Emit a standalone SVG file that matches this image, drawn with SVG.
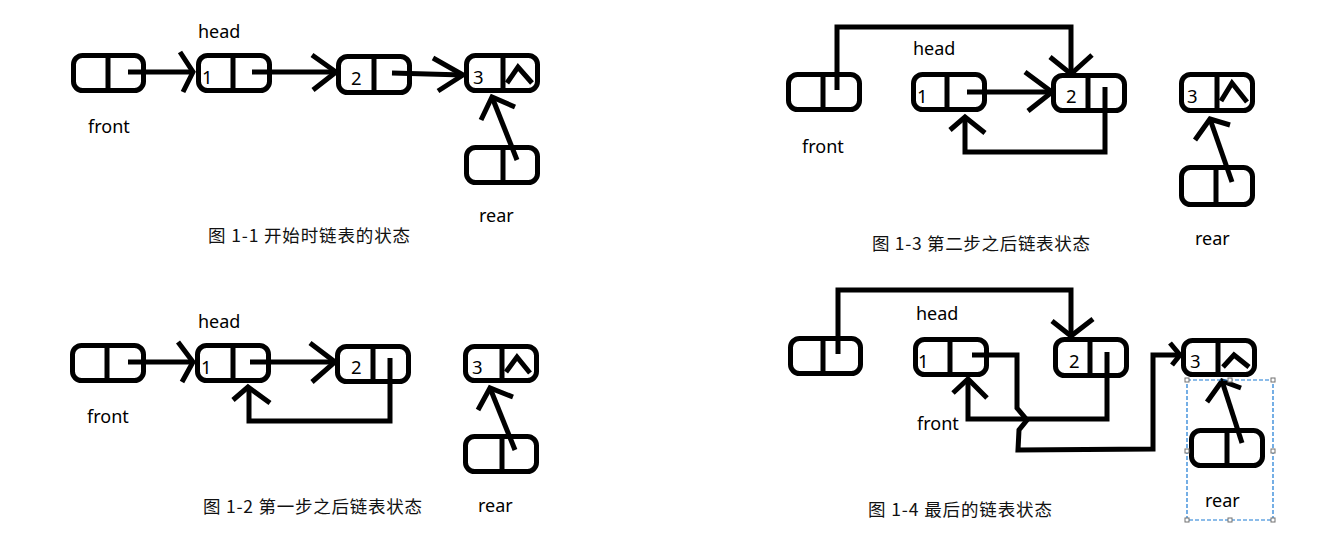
<svg xmlns="http://www.w3.org/2000/svg" width="1321" height="558" viewBox="0 0 1321 558">
<style>
.box{fill:#fff;stroke:#000;stroke-width:5}
.div{stroke:#000;stroke-width:5}
.ln{fill:none;stroke:#000;stroke-width:5;stroke-linejoin:miter;stroke-linecap:butt}
.lbl{font-family:"Noto Sans","Liberation Sans",sans-serif;font-size:18px;fill:#000}
.num{font-family:"Noto Sans","Liberation Sans",sans-serif;font-size:18.5px;fill:#000}
.cap{font-family:"Noto Sans CJK SC","Noto Sans",sans-serif;font-size:17.5px;fill:#111}
.sel{fill:none;stroke:#1a7ad4;stroke-width:1.2;stroke-dasharray:4 2}
.hd{fill:#fff;stroke:#707070;stroke-width:1}
</style>
<rect width="1321" height="558" fill="#fff"/>

<!-- Panel 1 -->
<g id="p1-front"><rect class="box" x="73.5" y="55.5" width="70" height="35" rx="9"/><line class="div" x1="108" y1="55" x2="108" y2="91"/></g>
<g id="p1-n1"><rect class="box" x="198.5" y="55.5" width="71" height="35" rx="9"/><line class="div" x1="233" y1="55" x2="233" y2="91"/><text class="num" x="202" y="84">1</text></g>
<g id="p1-n2"><rect class="box" x="338.5" y="56.5" width="71" height="36" rx="9"/><line class="div" x1="374" y1="56" x2="374" y2="93"/><text class="num" x="351" y="85">2</text></g>
<g id="p1-n3"><rect class="box" x="466.5" y="55.5" width="71" height="35" rx="9"/><line class="div" x1="503" y1="55" x2="503" y2="91"/><text class="num" x="473" y="84">3</text><polyline class="ln" points="507,83 518,67 532,83"/></g>
<g id="p1-rear"><rect class="box" x="466.5" y="147.5" width="71" height="35" rx="9"/><line class="div" x1="503" y1="147" x2="503" y2="183"/></g>
<text class="lbl" x="198" y="38">head</text>
<text class="lbl" x="88" y="133">front</text>
<text class="lbl" x="479" y="222">rear</text>
<text class="cap" x="208" y="242" textLength="202">图 1-1 开始时链表的状态</text>

<!-- Panel 2 -->
<g id="p2-front"><rect class="box" x="72.5" y="345.5" width="71" height="35" rx="9"/><line class="div" x1="107" y1="345" x2="107" y2="381"/></g>
<g id="p2-n1"><rect class="box" x="197.5" y="345.5" width="71" height="35" rx="9"/><line class="div" x1="233" y1="345" x2="233" y2="381"/><text class="num" x="201" y="374">1</text></g>
<g id="p2-n2"><rect class="box" x="337.5" y="346.5" width="71" height="35" rx="9"/><line class="div" x1="373" y1="346" x2="373" y2="382"/><text class="num" x="351" y="374">2</text></g>
<g id="p2-n3"><rect class="box" x="465.5" y="346.5" width="71" height="34" rx="9"/><line class="div" x1="502" y1="346" x2="502" y2="381"/><text class="num" x="472" y="374">3</text><polyline class="ln" points="506,372 517,357 530,373"/></g>
<g id="p2-rear"><rect class="box" x="465.5" y="436.5" width="71" height="35" rx="9"/><line class="div" x1="502" y1="436" x2="502" y2="472"/></g>
<text class="lbl" x="198" y="328">head</text>
<text class="lbl" x="87" y="423">front</text>
<text class="lbl" x="478" y="512">rear</text>
<text class="cap" x="203" y="513" textLength="219">图 1-2 第一步之后链表状态</text>

<!-- Panel 3 -->
<g id="p3-front"><rect class="box" x="788.5" y="74.5" width="71" height="35" rx="9"/><line class="div" x1="823" y1="74" x2="823" y2="110"/></g>
<g id="p3-n1"><rect class="box" x="913.5" y="74.5" width="71" height="35" rx="9"/><line class="div" x1="947" y1="74" x2="947" y2="110"/><text class="num" x="917" y="103">1</text></g>
<g id="p3-n2"><rect class="box" x="1053.5" y="75.5" width="71" height="35" rx="9"/><line class="div" x1="1088" y1="75" x2="1088" y2="111"/><text class="num" x="1066" y="103">2</text></g>
<g id="p3-n3"><rect class="box" x="1181.5" y="74.5" width="71" height="36" rx="9"/><line class="div" x1="1217" y1="74" x2="1217" y2="111"/><text class="num" x="1187" y="103">3</text><polyline class="ln" points="1221,101 1232,83 1247,102"/></g>
<g id="p3-rear"><rect class="box" x="1181.5" y="167.5" width="71" height="37" rx="9"/><line class="div" x1="1216" y1="167" x2="1216" y2="205"/></g>
<text class="lbl" x="913" y="55">head</text>
<text class="lbl" x="802" y="153">front</text>
<text class="lbl" x="1195" y="245">rear</text>
<text class="cap" x="872" y="250" textLength="218">图 1-3 第二步之后链表状态</text>

<!-- Panel 4 -->
<g id="p4-box"><rect class="box" x="790.5" y="338.5" width="70" height="35" rx="9"/><line class="div" x1="823" y1="338" x2="823" y2="374"/></g>
<g id="p4-n1"><rect class="box" x="915.5" y="339.5" width="71" height="35" rx="9"/><line class="div" x1="950" y1="339" x2="950" y2="375"/><text class="num" x="918" y="368">1</text></g>
<g id="p4-n2"><rect class="box" x="1055.5" y="339.5" width="71" height="36" rx="9"/><line class="div" x1="1090" y1="339" x2="1090" y2="376"/><text class="num" x="1069" y="368">2</text></g>
<g id="p4-n3"><rect class="box" x="1183.5" y="340.5" width="71" height="34" rx="9"/><line class="div" x1="1218" y1="340" x2="1218" y2="375"/><text class="num" x="1190" y="368">3</text><polyline class="ln" points="1223,367 1234,355 1249,367"/></g>
<g id="p4-rear"><rect class="box" x="1191.5" y="430.5" width="71" height="35" rx="9"/><line class="div" x1="1227" y1="430" x2="1227" y2="466"/></g>
<text class="lbl" x="916" y="320">head</text>
<text class="lbl" x="917" y="430">front</text>
<text class="lbl" x="1205" y="507">rear</text>
<text class="cap" x="868" y="516" textLength="184">图 1-4 最后的链表状态</text>

<!-- Connectors -->
<g id="connectors">
  <!-- panel 1 -->
  <line class="ln" x1="128" y1="72" x2="193" y2="72"/><polyline class="ln" points="180,52 193,72 183,92"/>
  <line class="ln" x1="252" y1="72" x2="336" y2="72"/><polyline class="ln" points="312,55 336,72 313,90"/>
  <line class="ln" x1="392" y1="73" x2="463" y2="75"/><polyline class="ln" points="433,58 463,75 438,91"/>
  <line class="ln" x1="517" y1="160" x2="492" y2="97"/><polyline class="ln" points="481,120 492,97 515,107"/>
  <!-- panel 2 -->
  <line class="ln" x1="128" y1="362" x2="193" y2="362"/><polyline class="ln" points="178,342 193,362 182,382"/>
  <line class="ln" x1="250" y1="362" x2="335" y2="362"/><polyline class="ln" points="310,343 335,362 312,382"/>
  <polyline class="ln" points="390,358 390,421 249,421 249,388"/><polyline class="ln" points="233,400 248,387 270,403"/>
  <line class="ln" x1="515" y1="450" x2="490" y2="388"/><polyline class="ln" points="478,410 490,388 513,397"/>
  <!-- panel 3 -->
  <polyline class="ln" points="837,90 837,27 1071,27 1071,74"/><polyline class="ln" points="1050,57 1071,74 1092,55"/>
  <line class="ln" x1="967" y1="92" x2="1052" y2="92"/><polyline class="ln" points="1025,72 1052,92 1028,111"/>
  <polyline class="ln" points="1105,87 1105,152 965,152 965,118"/><polyline class="ln" points="950,130 965,117 985,133"/>
  <line class="ln" x1="1232" y1="182" x2="1210" y2="119"/><polyline class="ln" points="1195,140 1210,119 1230,125"/>
  <!-- panel 4 -->
  <polyline class="ln" points="838,354 838,290 1071,290 1071,335"/><polyline class="ln" points="1052,321 1071,336 1093,319"/>
  <polyline class="ln" points="972,355 1017,355 1017,408 1027,420 1019,430 1018,450 1153,449 1153,355 1180,355"/><polyline class="ln" points="1170,343 1180,355 1172,365"/>
  <polyline class="ln" points="1107,352 1107,419 968,419 968,380"/><polyline class="ln" points="953,393 968,379 987,398"/>
  <line class="ln" x1="1242" y1="443" x2="1222" y2="381"/><polyline class="ln" points="1207,402 1222,381 1241,388"/>
</g>

<!-- selection box -->
<g id="selection">
  <rect class="sel" x="1187" y="380" width="86" height="140"/>
  <rect class="hd" x="1185" y="378" width="4" height="4"/>
  <rect class="hd" x="1228" y="378" width="4" height="4"/>
  <rect class="hd" x="1271" y="378" width="4" height="4"/>
  <rect class="hd" x="1185" y="449" width="4" height="4"/>
  <rect class="hd" x="1271" y="449" width="4" height="4"/>
  <rect class="hd" x="1185" y="518" width="4" height="4"/>
  <rect class="hd" x="1228" y="518" width="4" height="4"/>
  <rect class="hd" x="1271" y="518" width="4" height="4"/>
</g>
</svg>
